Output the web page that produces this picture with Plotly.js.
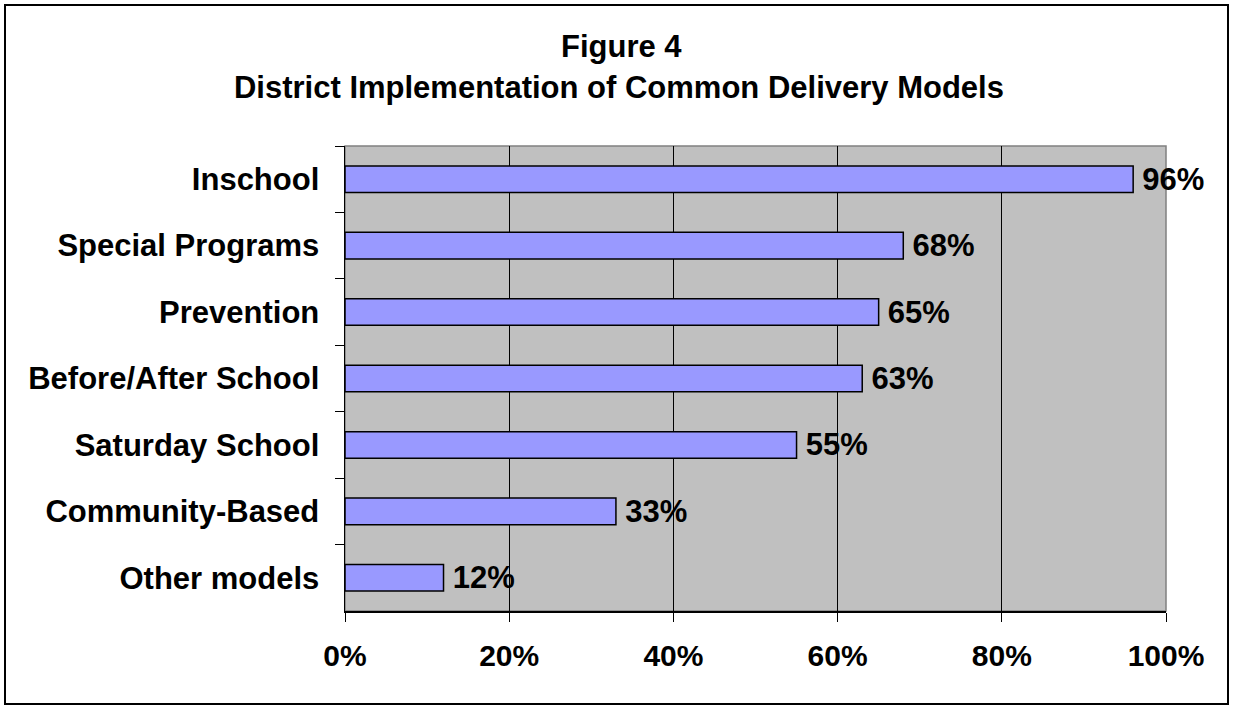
<!DOCTYPE html>
<html>
<head>
<meta charset="utf-8">
<script src="https://cdn.plot.ly/plotly-3.0.1.min.js"></script>
<style>
html,body{margin:0;padding:0;background:#fff;}
#wrap{position:relative;width:1233px;height:706px;}
#chart{width:1233px;height:706px;}
#frame{position:absolute;left:4px;top:4px;width:1221px;height:697px;border:2px solid #000;pointer-events:none;}
</style>
</head>
<body>
<div id="wrap"><div id="chart"></div><div id="frame"></div></div>
<script>
const categories = ["Inschool","Special Programs","Prevention","Before/After School","Saturday School","Community-Based","Other models"];
const values = [96, 68, 65, 63, 55, 33, 12];
const xTickVals = [0, 20, 40, 60, 80, 100];
const xTickText = ["0%","20%","40%","60%","80%","100%"];
const titleLine1 = "Figure 4";
const titleLine2 = "District Implementation of Common Delivery Models";

const font = "Arial, 'Liberation Sans', sans-serif";

const trace = {
  type: "bar",
  orientation: "h",
  y: categories,
  x: values,
  text: values.map(v => "<b>\u2009" + v + "%</b>"),
  textposition: "outside",
  constraintext: "none",
  cliponaxis: false,
  textfont: {family: font, size: 31, color: "#000"},
  marker: {color: "#9999FF", line: {color: "#000", width: 1.5}},
  hoverinfo: "skip"
};

const layout = {
  width: 1233, height: 706,
  margin: {l: 345, r: 67, t: 146, b: 95},
  paper_bgcolor: "#fff",
  plot_bgcolor: "#C0C0C0",
  showlegend: false,
  bargap: 0.6,
  font: {family: font, color: "#000"},
  title: {text: "<b>" + titleLine2 + "</b>", x: 0.502, xanchor: "center", y: 0.877, yanchor: "middle", font: {family: font, size: 31, color: "#000"}},
  annotations: [{
    text: "<b>" + titleLine1 + "</b>", xref: "paper", yref: "paper",
    x: (621 - 345) / 821, y: 1, yshift: 100, showarrow: false,
    xanchor: "center", yanchor: "middle",
    font: {family: font, size: 31, color: "#000"}
  }],
  xaxis: {
    range: [0, 100],
    tickvals: xTickVals, ticktext: xTickText,
    tickfont: {family: font, size: 30, weight: "bold", color: "#000"},
    ticks: "outside", ticklen: 9, tickcolor: "#000", tickwidth: 1,
    showgrid: true, gridcolor: "#000", gridwidth: 1,
    showline: true, linecolor: "#000", linewidth: 1.5,
    zeroline: false, fixedrange: true,
    ticklabelstandoff: 8
  },
  yaxis: {
    type: "category",
    autorange: "reversed",
    tickfont: {family: font, size: 31, weight: "bold", color: "#000"},
    ticks: "outside", ticklen: 9, tickcolor: "#000", tickwidth: 1,
    tickson: "boundaries",
    showgrid: false,
    showline: true, linecolor: "#000", linewidth: 1.5,
    zeroline: false, fixedrange: true,
    ticklabelstandoff: 18
  },
  shapes: [{
    type: "rect", xref: "paper", yref: "paper", x0: 0, x1: 1, y0: 0, y1: 1,
    line: {color: "#808080", width: 1.5}, layer: "below"
  }]
};

Plotly.newPlot("chart", [trace], layout, {displayModeBar: false, staticPlot: true});
</script>
</body>
</html>
